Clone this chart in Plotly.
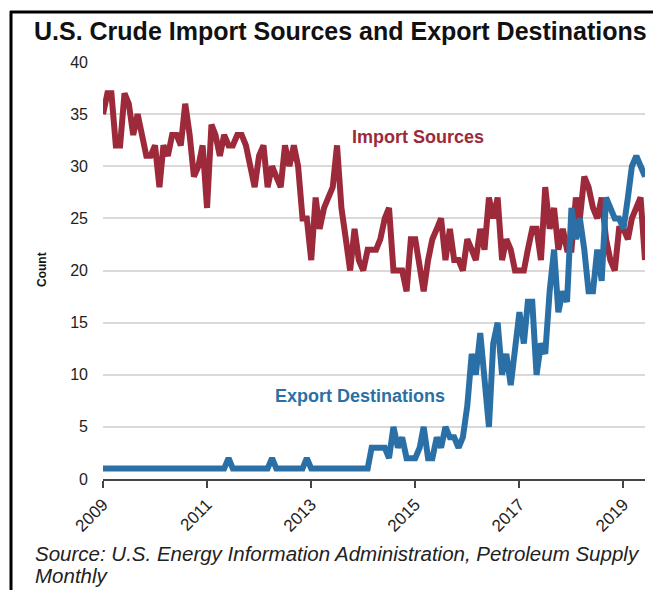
import pandas as pd
import plotly.graph_objects as go

# ---- data (monthly counts, Jan 2009 - Jun 2019) ----
start_month = "2009-01-01"
n_months = 126

import_sources = [
    35, 37, 37, 32, 32, 37, 36, 33, 35, 33, 31, 31,
    32, 28, 32, 31, 33, 33, 32, 36, 33, 29, 30, 32,
    26, 34, 33, 31, 33, 32, 32, 33, 33, 32, 30, 28,
    31, 32, 28, 30, 29, 28, 32, 30, 32, 30, 25, 25,
    21, 27, 24, 26, 27, 28, 32, 26, 23, 20, 24, 21,
    20, 22, 22, 22, 23, 25, 26, 20, 20, 20, 18, 23,
    23, 20, 18, 21, 23, 24, 25, 21, 24, 21, 21, 20,
    23, 22, 21, 24, 22, 27, 25, 27, 21, 23, 22, 20,
    20, 20, 22, 24, 24, 21, 28, 24, 26, 22, 24, 22,
    22, 27, 25, 29, 28, 26, 25, 27, 23, 21, 20, 24,
    24, 23, 25, 26, 27, 21,
]

export_destinations = [
    1, 1, 1, 1, 1, 1, 1, 1, 1, 1, 1, 1,
    1, 1, 1, 1, 1, 1, 1, 1, 1, 1, 1, 1,
    1, 1, 1, 1, 1, 2, 1, 1, 1, 1, 1, 1,
    1, 1, 1, 2, 1, 1, 1, 1, 1, 1, 1, 2,
    1, 1, 1, 1, 1, 1, 1, 1, 1, 1, 1, 1,
    1, 1, 3, 3, 3, 3, 2, 5, 3, 4, 2, 2,
    2, 3, 5, 2, 2, 4, 3, 5, 4, 4, 3, 4,
    7, 12, 10, 14, 9, 5, 13, 15, 10, 12, 9, 13,
    16, 13, 17, 17, 10, 13, 12, 18, 22, 16, 18, 17,
    26, 23, 25, 22, 18, 18, 22, 19, 27, 26, 25, 25,
    24, 27, 30, 31, 30, 29,
]

year_ticks = [2009, 2011, 2013, 2015, 2017, 2019]
y_ticks = [0, 5, 10, 15, 20, 25, 30, 35, 40]

title_text = "U.S. Crude Import Sources and Export Destinations"
source_line1 = "Source: U.S. Energy Information Administration, Petroleum Supply"
source_line2 = "Monthly"

# ---- styling ----
RED = "#9c2a3b"
BLUE = "#2a70a6"
FONT = "Liberation Sans, Arial, sans-serif"

W, H = 653, 590
ML, MR, MT, MB = 103, 8, 62, 111
PW, PH = W - ML - MR, H - MT - MB


def px(xpix):
    return (xpix - ML) / PW


def py(ypix):
    return (H - MB - ypix) / PH


months = pd.date_range(start_month, periods=n_months, freq="MS")

fig = go.Figure()
fig.add_trace(go.Scatter(x=months, y=import_sources, mode="lines",
                         line=dict(color=RED, width=6), name="Import Sources",
                         hoverinfo="x+y"))
fig.add_trace(go.Scatter(x=months, y=export_destinations, mode="lines",
                         line=dict(color=BLUE, width=6), name="Export Destinations",
                         hoverinfo="x+y"))

src_font = dict(size=20.5, color="#222")

fig.update_layout(
    width=W, height=H,
    margin=dict(l=ML, r=MR, t=MT, b=MB),
    paper_bgcolor="white", plot_bgcolor="white",
    showlegend=False,
    font=dict(family=FONT, color="#222"),
    xaxis=dict(
        range=[months[0], months[-1]],
        tickvals=[pd.Timestamp(f"{y}-01-01") for y in year_ticks],
        ticktext=[str(y) for y in year_ticks],
        tickangle=-45,
        tickfont=dict(size=17, color="#222"),
        showgrid=False, zeroline=False,
        showline=True, linecolor="#444", linewidth=2,
        ticks="outside", ticklen=7, tickwidth=2, tickcolor="#444",
    ),
    yaxis=dict(
        range=[0, 40],
        tickvals=y_ticks,
        tickfont=dict(size=16, color="#222"),
        showgrid=True, gridcolor="#d9d9d9", gridwidth=2,
        zeroline=False, showline=False, ticks="",
        ticklabelstandoff=14,
    ),
    annotations=[
        dict(text="<b>" + title_text + "</b>", xref="paper", yref="paper",
             x=px(32), y=py(31), xanchor="left", yanchor="middle",
             showarrow=False, font=dict(size=25, color="#111", family=FONT)),
        dict(text="<b>Count</b>", xref="paper", yref="paper",
             x=px(42), y=py(270), xanchor="center", yanchor="middle",
             textangle=-90, showarrow=False, font=dict(size=12, color="#111")),
        dict(text="<b>Import Sources</b>", xref="paper", yref="paper",
             x=px(418), y=py(137), xanchor="center", yanchor="middle",
             showarrow=False, font=dict(size=18, color=RED)),
        dict(text="<b>Export Destinations</b>", xref="paper", yref="paper",
             x=px(360), y=py(396), xanchor="center", yanchor="middle",
             showarrow=False, font=dict(size=18, color=BLUE)),
        dict(text="<i>" + source_line1 + "</i>", xref="paper", yref="paper",
             x=px(33), y=py(553), xanchor="left", yanchor="middle", align="left",
             showarrow=False, font=src_font),
        dict(text="<i>" + source_line2 + "</i>", xref="paper", yref="paper",
             x=px(33), y=py(575), xanchor="left", yanchor="middle", align="left",
             showarrow=False, font=src_font),
    ],
    shapes=[
        dict(type="line", xref="paper", yref="paper",
             x0=px(11), x1=px(11), y0=py(11), y1=py(600),
             line=dict(color="black", width=3)),
        dict(type="line", xref="paper", yref="paper",
             x0=px(10), x1=px(660), y0=py(12), y1=py(12),
             line=dict(color="black", width=3)),
    ],
)

fig.write_html("out.html",
               config={"displayModeBar": False},
               post_script="document.body.style.margin='0';document.body.style.overflow='hidden';")
